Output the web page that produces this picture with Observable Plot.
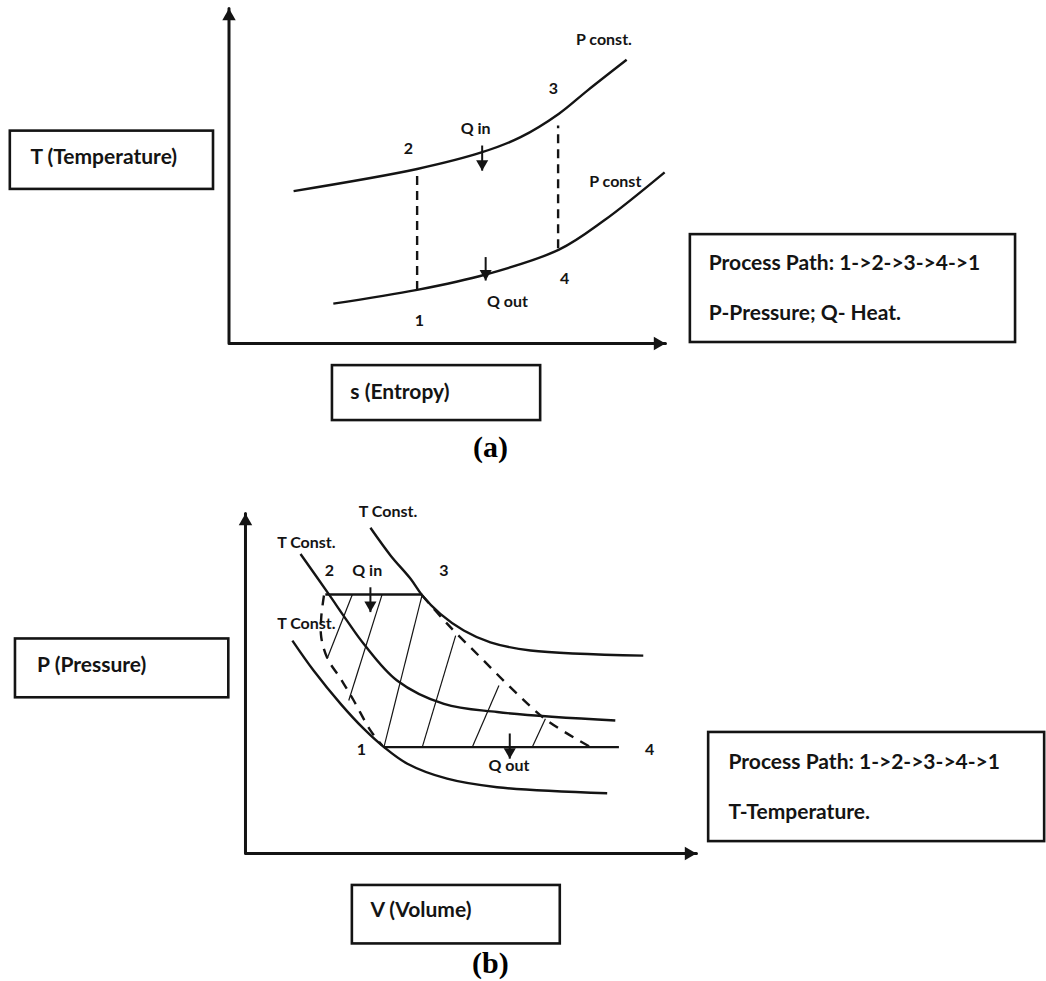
<!DOCTYPE html>
<html><head><meta charset="utf-8">
<script src="https://cdn.jsdelivr.net/npm/d3@7"></script>
<script src="https://cdn.jsdelivr.net/npm/@observablehq/plot@0.6"></script>
<style>body{margin:0;background:#fff} svg{display:block}</style>
</head><body><div id="chart"></div>
<script>
// ===== (a) T–s diagram (axis units 0–100) =====
const aAxisS = [0, 0, 100];
const aAxisT = [100, 0, 0];
const aUpperS = [14.8, 43.1, 58.0, 66.8, 75.6, 82.1, 91.1];
const aUpperT = [45.5, 52.1, 57.1, 61.6, 68.6, 75.5, 84.7];
const aLowerS = [23.9, 43.1, 58.8, 75.6, 85.9, 99.8];
const aLowerT = [11.9, 16.0, 20.6, 28.0, 36.7, 51.1];
const aDashS = [43.1, 75.4];
const aDashLo = [16.0, 28.4];
const aDashHi = [51.1, 65.1];
const aArrowS = [58.0, 58.8];
const aArrowFrom = [59.1, 25.8];
const aArrowTo = [51.6, 18.8];
const aLabelText = ["P const.", "3", "Q in", "2", "P const", "4", "Q out", "1"];
const aLabelS = [85.9, 74.3, 56.5, 41.1, 88.5, 76.9, 63.8, 43.6];
const aLabelT = [90.7, 76.1, 64.2, 58.2, 48.1, 19.4, 12.5, 6.9];
const aBoxS1 = [-50.1, 105.7, 23.7];
const aBoxS2 = [-3.55, 180.2, 71.4];
const aBoxT1 = [46.0, 0.3, -23.0];
const aBoxT2 = [63.4, 32.5, -6.6];
const aBoxText = ["T (Temperature)", "Process Path: 1->2->3->4->1", "P-Pressure; Q- Heat.", "s (Entropy)"];
const aBoxTextS = [-45.5, 109.9, 109.9, 27.8];
const aBoxTextT = [55.5, 23.9, 9.0, -14.6];
const aCaption = "(a)";
const aCaptionS = 59.9, aCaptionT = -31.0;

// ===== (b) P–V diagram (axis units 0–100) =====
const bAxisV = [0, 0, 100];
const bAxisP = [100, 0, 0];
const bIsoHighV = [27.7, 32.2, 36.6, 39.2, 43.2, 48.4, 54.3, 63.2, 88.2];
const bIsoHighP = [95.8, 87.6, 80.8, 75.9, 70.5, 65.6, 62.1, 59.7, 58.2];
const bIsoMidV = [12.2, 18.5, 22.5, 26.2, 33.6, 44.0, 55.8, 82.0];
const bIsoMidP = [88.1, 76.2, 68.5, 61.7, 50.9, 44.0, 41.6, 39.1];
const bIsoLowV = [10.4, 15.1, 21.1, 26.2, 30.7, 35.9, 44.7, 55.8, 80.2];
const bIsoLowP = [62.6, 53.8, 44.0, 36.7, 31.3, 26.4, 22.0, 19.5, 17.7];
const bHorizV1 = [17.7, 30.7];
const bHorizV2 = [39.2, 82.8];
const bHorizP = [76.2, 31.3];
const bDash21V = [17.4, 16.8, 16.8, 18.2, 21.1, 24.0, 27.7, 30.3];
const bDash21P = [75.9, 69.5, 63.6, 57.3, 51.4, 45.0, 36.2, 31.8];
const bDash34V = [39.2, 44.7, 52.1, 59.5, 66.9, 76.5];
const bDash34P = [75.9, 67.6, 57.7, 47.9, 39.1, 31.3];
const bHatchV1 = [18.1, 22.9, 30.7, 39.2, 50.3, 63.6];
const bHatchP1 = [57.3, 45.0, 31.3, 31.3, 31.3, 31.3];
const bHatchV2 = [23.7, 30.3, 39.2, 46.6, 56.2, 66.5];
const bHatchP2 = [76.2, 76.2, 76.2, 64.1, 49.4, 39.6];
const bArrowV = [27.7, 58.6];
const bArrowFrom = [78.3, 35.3];
const bArrowTo = [71.0, 27.9];
const bLabelText = ["T Const.", "T Const.", "2", "Q in", "3", "T Const.", "1", "4", "Q out"];
const bLabelV = [31.6, 13.5, 18.6, 27.0, 44.0, 13.5, 25.7, 89.6, 58.4];
const bLabelP = [100.4, 91.3, 83.2, 83.2, 83.2, 67.4, 30.5, 30.5, 25.9];
const bBoxV1 = [-51.0, 102.7, 23.7];
const bBoxV2 = [-3.7, 177.2, 69.8];
const bBoxP1 = [45.8, 3.5, -26.6];
const bBoxP2 = [63.1, 35.6, -9.4];
const bBoxText = ["P (Pressure)", "Process Path: 1->2->3->4->1", "T-Temperature.", "V (Volume)"];
const bBoxTextV = [-46.2, 107.1, 107.1, 27.7];
const bBoxTextP = [55.3, 26.8, 12.1, -16.8];
const bCaption = "(b)";
const bCaptionV = 54.3, bCaptionP = -32.4;

const zip = (xs, ys) => xs.map((x, i) => ({x, y: ys[i]}));
const idx = a => a.map((_, i) => i);
const FONT = "Lato, 'Open Sans', sans-serif";
const INK = "#141414";

function panel(cfg) {
  const lineMarks = cfg.curves.map(c => Plot.line(zip(c.x, c.y), {
    x: "x", y: "y", curve: "catmull-rom", stroke: INK,
    strokeWidth: c.w ?? 2.4, strokeDasharray: c.dash ?? null, strokeLinecap: "butt"
  }));
  const arrowHeadR = 4.5, arrowOff = 2 * Math.sqrt(arrowHeadR * arrowHeadR * Math.PI / (3 * Math.sqrt(3)));
  const axR = 5, axOff = 2 * Math.sqrt(axR * axR * Math.PI / (3 * Math.sqrt(3)));
  return Plot.plot({
    width: 1046, height: cfg.height, margin: 0,
    style: {background: "white", overflow: "visible"},
    x: {domain: cfg.xDomain, axis: null},
    y: {domain: cfg.yDomain, axis: null},
    marks: [
      Plot.line(zip(cfg.axisX, cfg.axisY), {x: "x", y: "y", stroke: INK, strokeWidth: 3}),
      Plot.dot([0], {x: [0], y: [100], symbol: "triangle", r: axR, fill: INK, stroke: null, dy: axOff}),
      Plot.dot([0], {x: [100], y: [0], symbol: "triangle", r: axR, fill: INK, stroke: null, rotate: 90, dx: -axOff}),
      ...lineMarks,
      ...(cfg.segs || []).map(s => Plot.link(idx(s.x1), {
        x1: s.x1, y1: s.y1, x2: s.x2, y2: s.y2, stroke: INK, strokeWidth: s.w, strokeDasharray: s.dash ?? null
      })),
      Plot.link(idx(cfg.arrowX), {x1: cfg.arrowX, x2: cfg.arrowX, y1: cfg.arrowFrom, y2: cfg.arrowTo, stroke: INK, strokeWidth: 2}),
      Plot.dot(idx(cfg.arrowX), {x: cfg.arrowX, y: cfg.arrowTo, symbol: "triangle", r: arrowHeadR, fill: INK, stroke: null, rotate: 180, dy: -arrowOff}),
      Plot.text(cfg.labelText, {x: cfg.labelX, y: cfg.labelY, text: d => d, fontFamily: FONT, fontWeight: "bold", fontSize: 16, fill: INK, textAnchor: "middle"}),
      Plot.rect(idx(cfg.boxX1), {x1: cfg.boxX1, x2: cfg.boxX2, y1: cfg.boxY1, y2: cfg.boxY2, fill: "none", stroke: INK, strokeWidth: 2.6}),
      Plot.text(cfg.boxText, {x: cfg.boxTextX, y: cfg.boxTextY, text: d => d, fontFamily: FONT, fontWeight: "bold", fontSize: 21, fill: INK, textAnchor: "start"}),
      Plot.text([cfg.caption], {x: [cfg.captionX], y: [cfg.captionY], text: d => d, fontFamily: "'Liberation Serif', 'Times New Roman', serif", fontWeight: "bold", fontSize: 30, fill: "#000", textAnchor: "middle"})
    ]
  });
}

const figA = panel({
  height: 470, xDomain: [-52.35, 187.29], yDomain: [-37.91, 102.39],
  axisX: aAxisS, axisY: aAxisT,
  curves: [{x: aUpperS, y: aUpperT}, {x: aLowerS, y: aLowerT}],
  segs: [{x1: aDashS, x2: aDashS, y1: aDashLo, y2: aDashHi, w: 2.4, dash: "9,6"}],
  arrowX: aArrowS, arrowFrom: aArrowFrom, arrowTo: aArrowTo,
  labelText: aLabelText, labelX: aLabelS, labelY: aLabelT,
  boxX1: aBoxS1, boxX2: aBoxS2, boxY1: aBoxT1, boxY2: aBoxT2,
  boxText: aBoxText, boxTextX: aBoxTextS, boxTextY: aBoxTextT,
  caption: aCaption, captionX: aCaptionS, captionY: aCaptionT
});

const figB = panel({
  height: 511, xDomain: [-54.32, 177.61], yDomain: [-37.65, 112.65],
  axisX: bAxisV, axisY: bAxisP,
  curves: [
    {x: bIsoHighV, y: bIsoHighP}, {x: bIsoMidV, y: bIsoMidP}, {x: bIsoLowV, y: bIsoLowP},
    {x: bDash21V, y: bDash21P, dash: "10,8"}, {x: bDash34V, y: bDash34P, dash: "10,8"}
  ],
  segs: [
    {x1: bHorizV1, x2: bHorizV2, y1: bHorizP, y2: bHorizP, w: 2.4},
    {x1: bHatchV1, x2: bHatchV2, y1: bHatchP1, y2: bHatchP2, w: 1.2}
  ],
  arrowX: bArrowV, arrowFrom: bArrowFrom, arrowTo: bArrowTo,
  labelText: bLabelText, labelX: bLabelV, labelY: bLabelP,
  boxX1: bBoxV1, boxX2: bBoxV2, boxY1: bBoxP1, boxY2: bBoxP2,
  boxText: bBoxText, boxTextX: bBoxTextV, boxTextY: bBoxTextP,
  caption: bCaption, captionX: bCaptionV, captionY: bCaptionP
});

document.getElementById("chart").append(figA, figB);
</script>
</body></html>
